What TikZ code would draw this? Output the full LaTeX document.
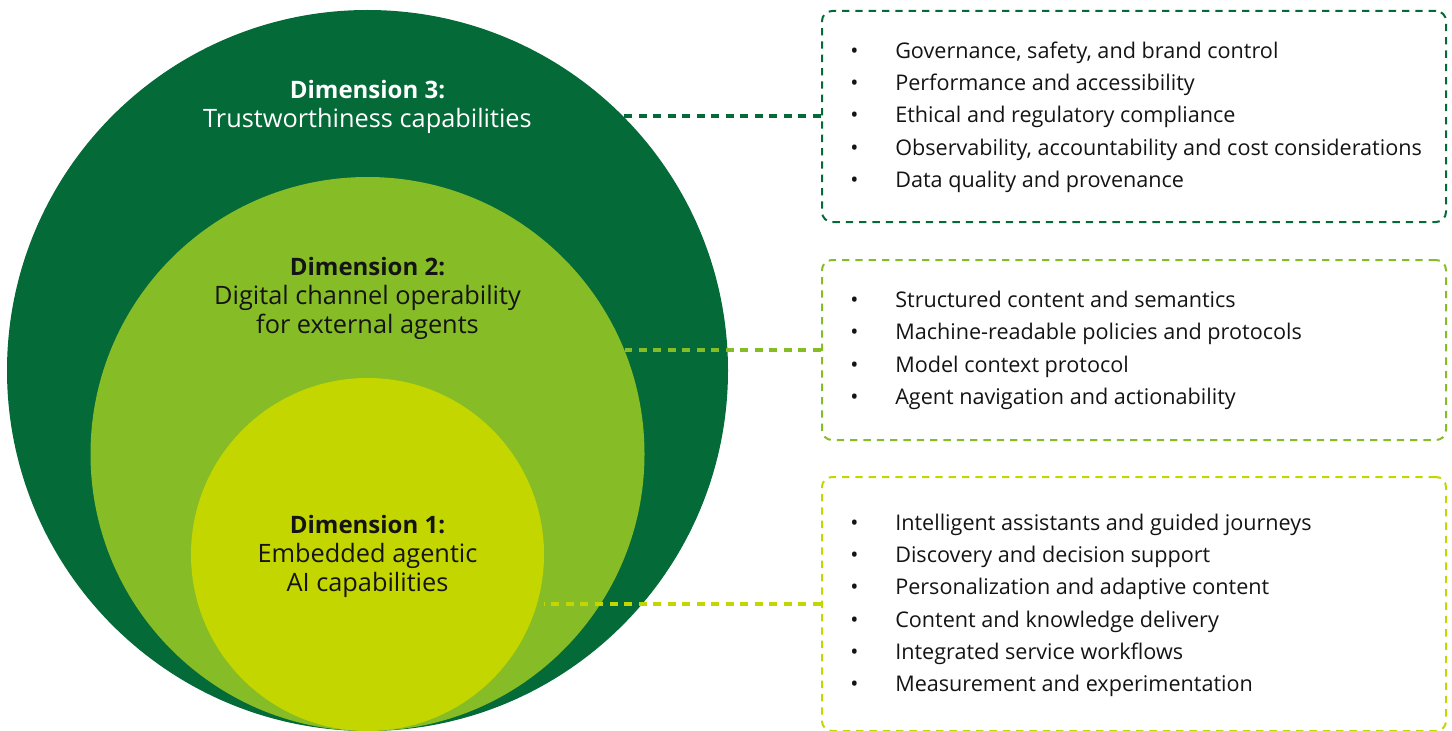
\documentclass[tikz,border=0pt]{standalone}
\usepackage{fontspec}
\setmainfont{Open Sans}
\usepackage{tikz}

\definecolor{dimthree}{RGB}{4,106,56}
\definecolor{dimtwo}{RGB}{134,188,37}
\definecolor{dimone}{RGB}{196,214,0}
\definecolor{ink}{RGB}{20,20,20}

\newcommand{\dimhead}[1]{{\fontsize{18}{21.75}\selectfont\bfseries #1}}

\tikzset{
  disc/.style={circle, draw=none, inner sep=0pt},
  dimtext/.style={align=center, inner sep=0.75pt, text=ink, font=\fontsize{19}{21.75}\selectfont},
  listbox/.style={draw, dashed, dash pattern=on 5.5pt off 4.5pt, line width=1.5pt, rounded corners=7.5pt, minimum width=468pt, inner sep=0pt},
  listtext/.style={anchor=west, inner sep=0pt, text=ink, font=\fontsize{16.2}{24.2}\selectfont},
  link/.style={line width=3pt, dash pattern=on 6pt off 4.9pt},
}

\begin{document}
\begin{tikzpicture}[x=0.75pt,y=0.75pt,yscale=-1,xscale=1]
\useasboundingbox (0,0) rectangle (1452,731);

%Shape: Circle
\node[disc, fill=dimthree, minimum size=540.75pt] (dim3) at (367.5,370.5) {};
%Shape: Circle
\node[disc, fill=dimtwo, minimum size=415.5pt] (dim2) at (367.5,454) {};
%Shape: Circle
\node[disc, fill=dimone, minimum size=264.75pt] (dim1) at (367.5,554.5) {};

% Text Node
\node[dimtext, text=white] (lbl3) at (367.5,106.5) {\dimhead{Dimension 3:}\\Trustworthiness capabilities};
% Text Node
\node[dimtext] (lbl2) at (367.5,298) {\dimhead{Dimension 2:}\\Digital channel operability\\for external agents};
% Text Node
\node[dimtext] (lbl1) at (367.5,556) {\dimhead{Dimension 1:}\\Embedded agentic\\AI capabilities};

%Shape: Rectangle
\node[listbox, draw=dimthree, minimum height=158.25pt] (list3) at (1134,116.5) {};
%Shape: Rectangle
\node[listbox, draw=dimtwo, minimum height=135pt] (list2) at (1134,350) {};
%Shape: Rectangle
\node[listbox, draw=dimone, minimum height=190.5pt] (list1) at (1134,604) {};

% Text Node
\node[listtext] (items3) at (850,116.5) {\begin{tabular}{@{}p{33.75pt}@{}l@{}}
\textbullet & Governance, safety, and brand control\\
\textbullet & Performance and accessibility\\
\textbullet & Ethical and regulatory compliance\\
\textbullet & Observability, accountability and cost considerations\\
\textbullet & Data quality and provenance
\end{tabular}};
% Text Node
\node[listtext] (items2) at (850,349.5) {\begin{tabular}{@{}p{33.75pt}@{}l@{}}
\textbullet & Structured content and semantics\\
\textbullet & Machine-readable policies and protocols\\
\textbullet & Model context protocol\\
\textbullet & Agent navigation and actionability
\end{tabular}};
% Text Node
\node[listtext] (items1) at (850,604.5) {\begin{tabular}{@{}p{33.75pt}@{}l@{}}
\textbullet & Intelligent assistants and guided journeys\\
\textbullet & Discovery and decision support\\
\textbullet & Personalization and adaptive content\\
\textbullet & Content and knowledge delivery\\
\textbullet & Integrated service workflows\\
\textbullet & Measurement and experimentation
\end{tabular}};

%Straight Lines
\draw[link, dimthree] (list3.west) -- (list3.west -| dim3.45);
%Straight Lines
\draw[link, dimtwo] (list2.west) -- (list2.west -| dim2.22);
%Straight Lines
\draw[link, dimone] (list1.west) -- (list1.west -| dim1.east);

\end{tikzpicture}
\end{document}
